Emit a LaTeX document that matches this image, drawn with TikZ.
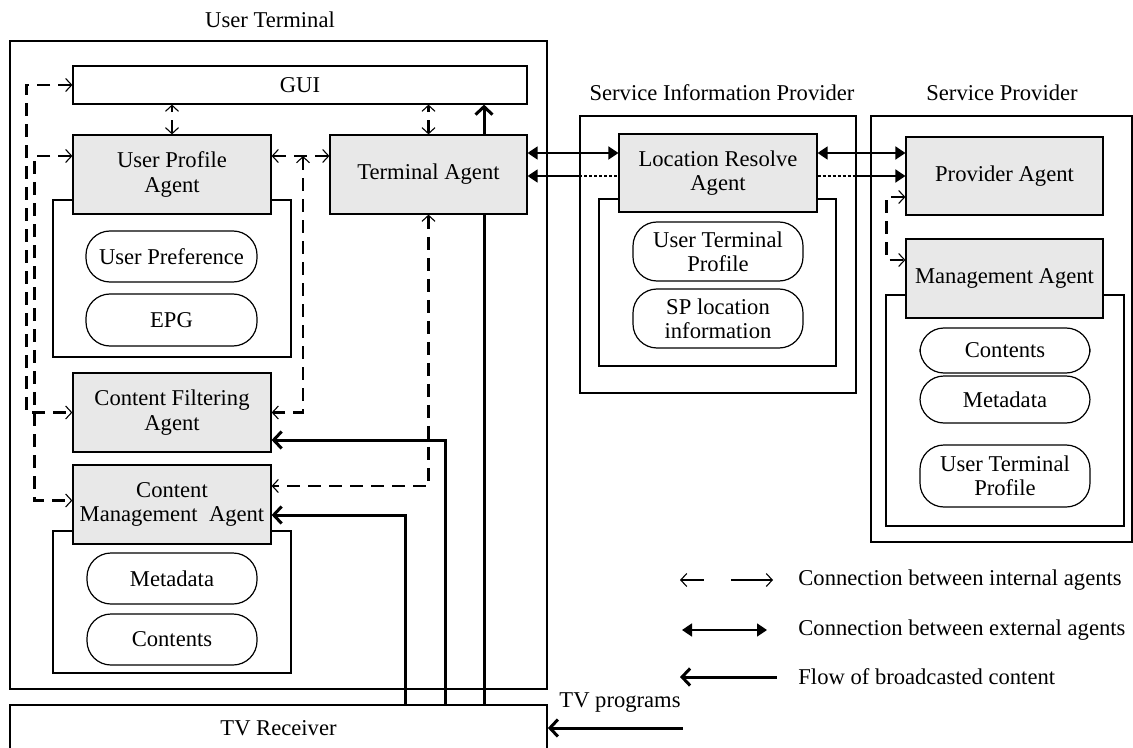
\documentclass[tikz,border=0pt]{standalone}
\usepackage{fontspec}
\setmainfont{Liberation Serif}
\usetikzlibrary{arrows.meta,calc}
\definecolor{agentgray}{HTML}{E8E8E8}
\begin{document}
\begin{tikzpicture}[x=0.5pt,y=-0.5pt,
  font=\fontsize{11.3}{12.2}\selectfont,
  rect/.style n args={4}{at={({(#1+#3)/2},{(#2+#4)/2})}, minimum width={(#3-#1)*0.5pt}, minimum height={(#4-#2)*0.5pt}},
  box/.style={draw, line width=0.6pt, inner sep=0pt, align=center},
  agent/.style={box, fill=agentgray},
  cont/.style={draw, line width=0.75pt, inner sep=0pt},
  outerbox/.style={draw, line width=0.85pt, inner sep=0pt},
  pill/.style={draw, line width=0.6pt, rounded corners=12pt, inner sep=0pt, align=center, fill=white},
  itip/.tip={Straight Barb[length=3pt,width=6.5pt,line width=0.55pt]},
  intern/.style={line width=1.4pt, dash pattern=on 6.5pt off 4pt, itip-itip},
  etip/.tip={Triangle[length=5pt,width=6.5pt]},
  extern/.style={line width=0.9pt, etip-etip},
  ftip/.tip={Straight Barb[length=4pt,width=8.5pt,line width=1.5pt]},
  flow/.style={line width=1.5pt},
  dotline/.style={line width=1pt, dash pattern=on 1.5pt off 1pt},
  lbl/.style={inner sep=1pt}
]
\useasboundingbox (0,0) rectangle (1133,748);
\clip (0,0) rectangle (1133,748);

% titles
\node[lbl] (tut) at (270,20) {User Terminal};
\node[lbl] (tsip) at (722,93) {Service Information Provider};
\node[lbl] (tsp) at (1002,93) {Service Provider};

% outer boxes
\node[outerbox, rect={10}{41}{547}{689}] (ut) {};
\node[outerbox, rect={10}{705}{547}{751}] (tvr) {TV Receiver};
\node[outerbox, rect={580}{116}{856}{393}] (sip) {};
\node[outerbox, rect={871}{116}{1132}{542}] (sp) {};

% containers
\node[cont, rect={53}{200}{291}{357}] (cupa) {};
\node[cont, rect={53}{531}{291}{673}] (ccma) {};
\node[cont, rect={599}{199}{836}{366}] (clra) {};
\node[cont, rect={886}{295}{1124}{526}] (cma2) {};

% user terminal nodes
\node[box, fill=white, rect={73}{66}{527}{104}] (gui) {GUI};
\node[agent, rect={73}{135}{271}{214}] (upa) {User Profile\\Agent};
\node[agent, rect={330}{135}{527}{214}] (ta) {Terminal Agent};
\node[agent, rect={73}{373}{271}{452}] (cfa) {Content Filtering\\Agent};
\node[agent, rect={73}{465}{271}{544}] (cma) {Content\\Management~ Agent};
\node[pill, rect={86}{231}{257}{282}] (upref) {User Preference};
\node[pill, rect={86}{294}{257}{346}] (epg) {EPG};
\node[pill, rect={87}{553}{257}{604}] (meta1) {Metadata};
\node[pill, rect={87}{614}{257}{665}] (cont1) {Contents};

% service information provider
\node[agent, rect={619}{134}{817}{212}] (lra) {Location Resolve\\Agent};
\node[pill, rect={633}{222}{803}{281}] (utp1) {User Terminal\\Profile};
\node[pill, rect={633}{289}{803}{348}] (sploc) {SP location\\information};

% service provider
\node[agent, rect={906}{137}{1103}{215}] (pa) {Provider Agent};
\node[agent, rect={906}{239}{1103}{318}] (ma) {Management Agent};
\node[pill, rect={920}{328}{1090}{373}] (cont2) {Contents};
\node[pill, rect={920}{376}{1090}{423}] (meta2) {Metadata};
\node[pill, rect={920}{445}{1090}{507}] (utp2) {User Terminal\\Profile};

% internal connections
\draw[intern] (upa.north) -- (upa.north |- gui.south);
\draw[intern] (ta.north) -- (ta.north |- gui.south);
\draw[intern] (gui.west) -| ([xshift=-23pt]cfa.west) -- (cfa.west);
\draw[intern] ([yshift=9.25pt]upa.west) -| ([xshift=-19pt,yshift=2pt]cma.west) -- ([yshift=2pt]cma.west);
\draw[intern] ([yshift=9.25pt]upa.east) -- ([yshift=9.25pt]ta.west);
\coordinate (j1) at (303,156);
\draw[intern] (j1) |- (cfa.east);
\draw[intern] (ta.south) |- ([yshift=9.25pt]cma.east);
\draw[intern] ([yshift=-10.5pt]pa.west) -| ([xshift=-9.5pt,yshift=9.25pt]ma.west) -- ([yshift=9.25pt]ma.west);

% external connections
\draw[extern] ([yshift=10.75pt]ta.east) -- ([yshift=10.75pt]ta.east -| lra.west);
\draw[extern] ([yshift=10pt]lra.east) -- ([yshift=10pt]lra.east -| pa.west);
\coordinate (lowa) at ([yshift=-0.75pt]ta.east -| sip.west);
\coordinate (lowb) at ([yshift=-0.75pt]ta.east -| lra.west);
\coordinate (lowc) at ([yshift=-0.75pt]ta.east -| lra.east);
\coordinate (lowd) at ([yshift=-0.75pt]ta.east -| sip.east);
\draw[extern, etip-] ([yshift=-0.75pt]ta.east) -- (lowa);
\draw[dotline] (lowa) -- (lowb);
\draw[dotline] (lowc) -- (lowd);
\draw[extern, -etip] (lowd) -- (lowd -| pa.west);

% broadcast flow
\coordinate (f1) at (tvr.north -| 405,0);
\coordinate (f2) at (tvr.north -| 445,0);
\coordinate (f3) at (tvr.north -| 484,0);
\draw[flow, ftip-] ([yshift=-5.25pt]cma.east) -| (f1);
\draw[flow, ftip-] ([yshift=-13.75pt]cfa.east) -| (f2);
\draw[flow] (f3) -- (ta.south -| f3);
\draw[flow, -ftip] (ta.north -| f3) -- (gui.south -| f3);
\coordinate (tvin) at (683,728);
\draw[flow, ftip-] (tvr.east) -- (tvin);
\node[lbl] (tvp) at (620,703) {TV programs};

% legend
\coordinate (l1a) at (680,580); \coordinate (l1b) at (773,580);
\coordinate (l2a) at (682,630); \coordinate (l2b) at (767,630);
\coordinate (l3a) at (680,677); \coordinate (l3b) at (777,677);
\draw[line width=1.1pt, dash pattern=on 11.5pt off 13.5pt on 30pt, itip-itip] (l1a) -- (l1b);
\draw[extern] (l2a) -- (l2b);
\draw[flow, ftip-] (l3a) -- (l3b);
\node[lbl, anchor=west] (lg1) at (796,580) {Connection between internal agents};
\node[lbl, anchor=west] (lg2) at (796,630) {Connection between external agents};
\node[lbl, anchor=west] (lg3) at (796,677) {Flow of broadcasted content};
\end{tikzpicture}
\end{document}
